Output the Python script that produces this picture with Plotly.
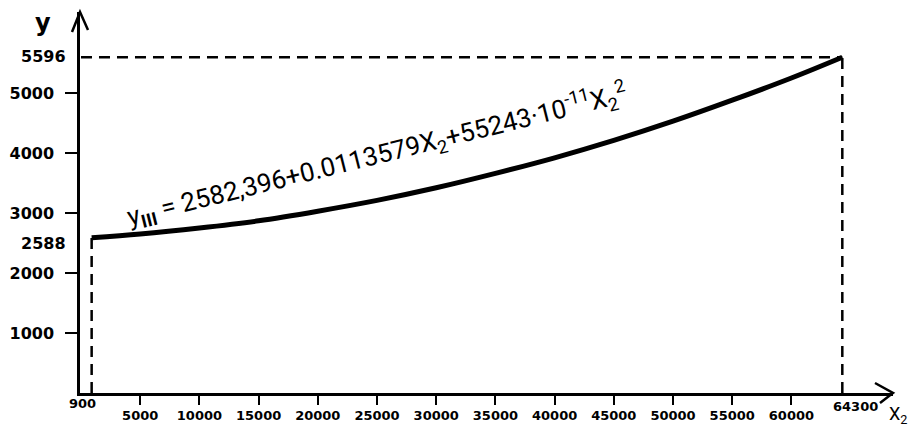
import plotly.graph_objects as go

# ---- data ----
x_curve = [900, 5000, 10000, 15000, 20000, 25000, 30000, 35000, 40000,
           45000, 50000, 55000, 60000, 64300]
y_curve = [2588, 2650, 2750, 2870, 3030, 3210, 3420, 3660, 3920,
           4210, 4530, 4880, 5250, 5596]

x_start, y_start = 900, 2588
x_end, y_end = 64300, 5596

x_ticks = [5000, 10000, 15000, 20000, 25000, 30000, 35000, 40000,
           45000, 50000, 55000, 60000]
y_ticks = [1000, 2000, 3000, 4000, 5000]

equation = ("y<sub><b>III</b></sub> = 2582,396+0.0113579X<sub>2</sub>"
            "+55243·10<sup>-11</sup>X<sub>2</sub><sup>2</sup>")

# ---- figure ----
fig = go.Figure()

dash_style = dict(color="black", width=2.5, dash="11px,7px")

# guide lines (dashed)
fig.add_trace(go.Scatter(x=[0, x_end], y=[y_end, y_end], mode="lines",
                         line=dash_style, hoverinfo="skip", cliponaxis=False))
fig.add_trace(go.Scatter(x=[x_end, x_end], y=[0, y_end], mode="lines",
                         line=dash_style, hoverinfo="skip", cliponaxis=False))
fig.add_trace(go.Scatter(x=[x_start, x_start], y=[0, y_start], mode="lines",
                         line=dash_style, hoverinfo="skip", cliponaxis=False))

# main curve
fig.add_trace(go.Scatter(x=x_curve, y=y_curve, mode="lines",
                         line=dict(color="black", width=5, shape="spline"),
                         cliponaxis=False))

tick_font_x = dict(family="DejaVu Sans", size=13, color="black", weight="bold")
tick_font_y = dict(family="DejaVu Sans", size=16, color="black", weight="bold")

fig.update_xaxes(range=[-84, 68581], showgrid=False, zeroline=False,
                 automargin=False,
                 showline=True, linecolor="black", linewidth=2.5,
                 tickmode="array", tickvals=x_ticks,
                 ticktext=[str(v) for v in x_ticks],
                 ticks="outside", ticklen=9, tickwidth=2, tickcolor="black",
                 tickfont=tick_font_x)
fig.update_yaxes(range=[0, 6350], showgrid=False, zeroline=False,
                 automargin=False,
                 showline=True, linecolor="black", linewidth=2.5,
                 tickmode="array", tickvals=y_ticks,
                 ticktext=[str(v) for v in y_ticks],
                 ticks="outside", ticklen=12, tickwidth=2, tickcolor="black",
                 tickfont=tick_font_y, ticklabelstandoff=8)

# open arrow heads at the ends of both axes (pixel-sized shapes)
shapes = [
    dict(type="path", xref="paper", yref="paper", xsizemode="pixel",
         ysizemode="pixel", xanchor=0, yanchor=1,
         path="M -8,-20 L 0,0 L 8,-18",
         line=dict(color="black", width=2.5)),
    dict(type="path", xref="paper", yref="paper", xsizemode="pixel",
         ysizemode="pixel", xanchor=1, yanchor=0,
         path="M -18,10 L 0,0 L -13,-10",
         line=dict(color="black", width=2.5)),
]

annotations = [
    # axis names
    dict(x=0, y=1, xref="paper", yref="paper", text="<b>y</b>",
         showarrow=False, xanchor="center", yanchor="middle",
         xshift=-37, yshift=-11,
         font=dict(family="DejaVu Sans", size=24, color="black")),
    dict(x=1, y=0, xref="paper", yref="paper", text="X<sub>2</sub>",
         showarrow=False, xanchor="left", yanchor="top",
         xshift=-6, yshift=-8,
         font=dict(family="Roboto", size=18, color="black")),
    # special value labels
    dict(x=x_start, y=0, xref="x", yref="paper", text=str(x_start),
         showarrow=False, xanchor="center", yanchor="top", xshift=-9,
         yshift=-1, font=tick_font_x),
    dict(x=x_end, y=0, xref="x", yref="paper", text=str(x_end),
         showarrow=False, xanchor="center", yanchor="top", xshift=13,
         yshift=-4, font=tick_font_x),
    dict(x=0, y=y_start, xref="paper", yref="y", text=str(y_start),
         showarrow=False, xanchor="right", yanchor="middle", xshift=-12,
         yshift=-6, font=tick_font_y),
    dict(x=0, y=y_end, xref="paper", yref="y", text=str(y_end),
         showarrow=False, xanchor="right", yanchor="middle", xshift=-12,
         yshift=1, font=tick_font_y),
    # equation
    dict(x=0.365, y=0.625, xref="paper", yref="paper", text=equation,
         showarrow=False, textangle=-14, xanchor="center", yanchor="middle",
         font=dict(family="Roboto", size=26, color="black")),
]

# the page body adds an 8px offset, so the figure is 8px smaller each way
fig.update_layout(width=908, height=418,
                  margin=dict(l=72, r=23, t=4, b=33),
                  paper_bgcolor="white", plot_bgcolor="white",
                  showlegend=False, annotations=annotations, shapes=shapes)

fig.write_html("out.html")
